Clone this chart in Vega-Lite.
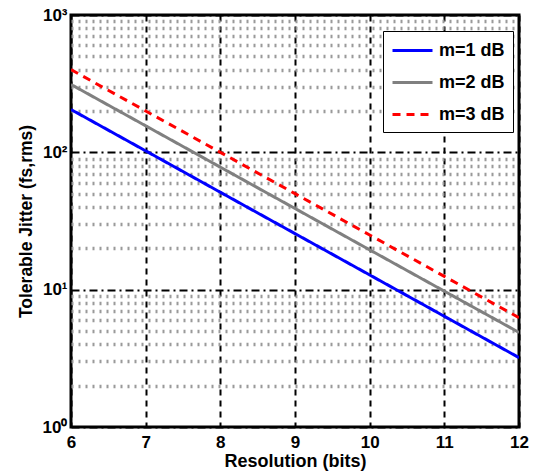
{
  "$schema": "https://vega.github.io/schema/vega-lite/v6.json",
  "width": 448,
  "height": 412,
  "autosize": {"type": "none"},
  "padding": {"left": 71, "top": 15, "right": 23, "bottom": 49},
  "background": "white",
  "config": {
    "view": {"stroke": "black", "strokeWidth": 3},
    "font": "Liberation Sans"
  },
  "data": {
    "values": [
      {"bits": 6, "jitter": 205, "series": "m=1 dB"},
      {"bits": 7, "jitter": 102.5, "series": "m=1 dB"},
      {"bits": 8, "jitter": 51.2, "series": "m=1 dB"},
      {"bits": 9, "jitter": 25.6, "series": "m=1 dB"},
      {"bits": 10, "jitter": 12.8, "series": "m=1 dB"},
      {"bits": 11, "jitter": 6.4, "series": "m=1 dB"},
      {"bits": 12, "jitter": 3.2, "series": "m=1 dB"},
      {"bits": 6, "jitter": 312, "series": "m=2 dB"},
      {"bits": 7, "jitter": 156, "series": "m=2 dB"},
      {"bits": 8, "jitter": 78, "series": "m=2 dB"},
      {"bits": 9, "jitter": 39, "series": "m=2 dB"},
      {"bits": 10, "jitter": 19.5, "series": "m=2 dB"},
      {"bits": 11, "jitter": 9.75, "series": "m=2 dB"},
      {"bits": 12, "jitter": 4.88, "series": "m=2 dB"},
      {"bits": 6, "jitter": 400, "series": "m=3 dB"},
      {"bits": 7, "jitter": 200, "series": "m=3 dB"},
      {"bits": 8, "jitter": 100, "series": "m=3 dB"},
      {"bits": 9, "jitter": 50, "series": "m=3 dB"},
      {"bits": 10, "jitter": 25, "series": "m=3 dB"},
      {"bits": 11, "jitter": 12.5, "series": "m=3 dB"},
      {"bits": 12, "jitter": 6.25, "series": "m=3 dB"}
    ]
  },
  "mark": {"type": "line", "strokeWidth": 3, "clip": true},
  "encoding": {
    "x": {
      "field": "bits",
      "type": "quantitative",
      "scale": {"domain": [6, 12], "nice": false, "zero": false},
      "axis": {
        "title": "Resolution (bits)",
        "values": [6, 7, 8, 9, 10, 11, 12],
        "format": "d",
        "domain": false,
        "ticks": false,
        "labelFlush": false,
        "labelPadding": 7,
        "labelFont": "Liberation Sans",
        "labelFontSize": 17,
        "labelFontWeight": "bold",
        "labelColor": "black",
        "titleFont": "Liberation Sans",
        "titleFontSize": 18,
        "titleFontWeight": "bold",
        "titleColor": "black",
        "titlePadding": 2,
        "grid": true,
        "gridColor": "black",
        "gridWidth": 2,
        "gridDash": [6, 5],
        "gridOpacity": 1
      }
    },
    "y": {
      "field": "jitter",
      "type": "quantitative",
      "scale": {"type": "log", "domain": [1, 1000], "nice": false},
      "axis": {
        "title": "Tolerable Jitter (fs,rms)",
        "values": [1, 2, 3, 4, 5, 6, 7, 8, 9, 10, 20, 30, 40, 50, 60, 70, 80, 90, 100, 200, 300, 400, 500, 600, 700, 800, 900, 1000],
        "labelExpr": "datum.value == 1 ? '10⁰' : datum.value == 10 ? '10¹' : datum.value == 100 ? '10²' : datum.value == 1000 ? '10³' : ''",
        "domain": false,
        "ticks": false,
        "labelFlush": false,
        "labelPadding": 4,
        "labelFont": "Liberation Sans",
        "labelFontSize": 17,
        "labelFontWeight": "bold",
        "labelColor": "black",
        "labelOverlap": false,
        "titleFont": "Liberation Sans",
        "titleFontSize": 17.5,
        "titleFontWeight": "bold",
        "titleColor": "black",
        "titlePadding": 7,
        "grid": true,
        "gridOpacity": 1,
        "gridColor": {"condition": {"test": "indexof([1,10,100,1000], datum.value) >= 0", "value": "black"}, "value": "#9a9a9a"},
        "gridWidth": {"condition": {"test": "indexof([1,10,100,1000], datum.value) >= 0", "value": 2}, "value": 3.5},
        "gridDash": {"condition": {"test": "indexof([1,10,100,1000], datum.value) >= 0", "value": [8, 4, 2, 4]}, "value": [2, 5]}
      }
    },
    "color": {
      "field": "series",
      "type": "nominal",
      "scale": {"domain": ["m=1 dB", "m=2 dB", "m=3 dB"], "range": ["#0000ff", "#808080", "#ff0000"]},
      "legend": {
        "title": null,
        "orient": "none",
        "legendX": 312,
        "legendY": 16,
        "symbolType": "M-1,0H3",
        "symbolSize": 400,
        "symbolStrokeWidth": 3,
        "labelFont": "Liberation Sans",
        "labelFontSize": 18,
        "labelFontWeight": "bold",
        "labelColor": "black",
        "labelOffset": 25,
        "rowPadding": 11,
        "padding": 8,
        "strokeColor": "black",
        "fillColor": "white",
        "offset": 0
      }
    },
    "strokeDash": {
      "field": "series",
      "type": "nominal",
      "scale": {"domain": ["m=1 dB", "m=2 dB", "m=3 dB"], "range": [[1, 0], [1, 0], [8, 6]]},
      "legend": {
        "title": null,
        "orient": "none",
        "legendX": 312,
        "legendY": 16
      }
    }
  }
}
